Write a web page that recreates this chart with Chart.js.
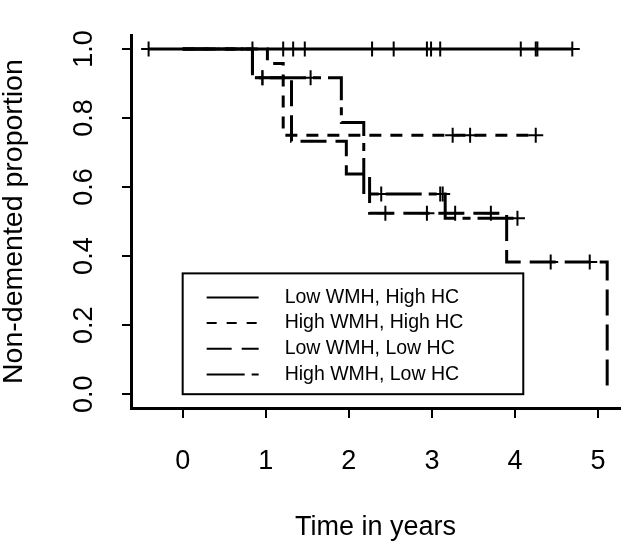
<!DOCTYPE html>
<html>
<head>
<meta charset="utf-8">
<script src="https://cdn.jsdelivr.net/npm/chart.js@4.4.1/dist/chart.umd.min.js"></script>
<style>
    html, body { margin: 0; padding: 0; background: #fff; }
    canvas { display: block; }
</style>
</head>
<body>
<canvas id="km-chart" width="633" height="544"></canvas>
<script>
// ==================== DATA ====================

const seriesLabels = ['Low WMH, High HC', 'High WMH, High HC', 'Low WMH, Low HC', 'High WMH, Low HC'];

// step curves: time in years where the curve steps, proportion after the step
const lowWmhHighHcTimes = [-0.41, 4.69];
const lowWmhHighHcSurv = [1.0, 1.0];
const lowWmhHighHcCensor = [-0.41, 0.84, 1.21, 1.33, 1.47, 2.28, 2.54, 2.94, 2.99, 3.10, 4.07, 4.25, 4.27, 4.69];

const highWmhHighHcTimes = [0, 1.02, 1.21, 4.25];
const highWmhHighHcSurv = [1.0, 0.958, 0.75, 0.75];
const highWmhHighHcCensor = [3.25, 3.46, 4.25];

const lowWmhLowHcTimes = [0, 0.84, 1.31, 1.97, 2.25, 3.90, 5.11];
const lowWmhLowHcSurv = [1.0, 0.917, 0.733, 0.638, 0.524, 0.383, 0.0];
const lowWmhLowHcCensor = [0.96, 2.44, 2.94, 3.28, 3.71, 4.43, 4.90];

const highWmhLowHcTimes = [0, 0.84, 1.91, 2.18, 3.16, 4.03];
const highWmhLowHcSurv = [1.0, 0.917, 0.787, 0.58, 0.51, 0.51];
const highWmhLowHcCensor = [0.96, 1.54, 2.39, 3.10, 3.13, 4.03];

const xTicks = [0, 1, 2, 3, 4, 5];
const yTicks = [0, 0.2, 0.4, 0.6, 0.8, 1.0];

// ==================== HELPERS ====================

const FONT = '"Liberation Sans", Arial, Helvetica, sans-serif';
const INK = '#000';

const curveDash = [[], [12, 9], [26, 9], [36, 7, 8, 7]];
const legendDash = [[], [10, 10], [25, 10], [38, 7, 8, 7]];

function stepPoints(times, surv) {
    return times.map((t, i) => ({ x: t, y: surv[i] }));
}

// a censor mark sits on the curve, at the value the curve has at that time
function censorPoints(times, surv, marks) {
    return marks.map(t => {
        let v = surv[0];
        times.forEach((s, i) => { if (s <= t) v = surv[i]; });
        return { x: t, y: v };
    });
}

const curves = [
    [lowWmhHighHcTimes, lowWmhHighHcSurv, lowWmhHighHcCensor],
    [highWmhHighHcTimes, highWmhHighHcSurv, highWmhHighHcCensor],
    [lowWmhLowHcTimes, lowWmhLowHcSurv, lowWmhLowHcCensor],
    [highWmhLowHcTimes, highWmhLowHcSurv, highWmhLowHcCensor]
];

const datasets = [];
curves.forEach(([times, surv], i) => {
    datasets.push({
        label: seriesLabels[i],
        data: stepPoints(times, surv),
        showLine: true,
        stepped: true,
        borderColor: '#000',
        borderWidth: 3,
        borderDash: curveDash[i],
        pointRadius: 0,
        pointHoverRadius: 0
    });
});
curves.forEach(([times, surv, marks], i) => {
    datasets.push({
        label: seriesLabels[i] + ' (censored)',
        data: censorPoints(times, surv, marks),
        showLine: false,
        pointStyle: 'cross',
        pointRadius: 7.5,
        pointBorderWidth: 2,
        pointBorderColor: '#000',
        pointBackgroundColor: '#000'
    });
});

// legend box drawn inside the plot, like R's legend(0, 0.35, ...)
const boxLegend = {
    id: 'boxLegend',
    afterDatasetsDraw(chart) {
        const { ctx, scales: { x, y } } = chart;
        const left = x.getPixelForValue(0);
        const right = x.getPixelForValue(4.1);
        const top = y.getPixelForValue(0.35);
        const bottom = y.getPixelForValue(0);

        ctx.save();
        ctx.strokeStyle = '#000';
        ctx.lineWidth = 2;
        ctx.strokeRect(left, top, right - left, bottom - top);

        ctx.font = '19.5px ' + FONT;
        ctx.fillStyle = INK;
        ctx.textBaseline = 'middle';
        ctx.textAlign = 'left';
        seriesLabels.forEach((label, i) => {
            const rowY = top + 24 + i * 25.7;
            ctx.setLineDash(legendDash[i]);
            ctx.beginPath();
            ctx.moveTo(left + 24, rowY);
            ctx.lineTo(left + 76, rowY);
            ctx.stroke();
            ctx.setLineDash([]);
            ctx.fillText(label, left + 102, rowY);
        });
        ctx.restore();
    }
};

// ==================== CHART ====================

const ctx = document.getElementById('km-chart').getContext('2d');

new Chart(ctx, {
    type: 'scatter',
    data: { datasets },
    options: {
        responsive: false,
        animation: false,
        devicePixelRatio: 1,
        layout: { padding: { top: 9, right: 10, left: 0, bottom: 0 } },
        plugins: {
            legend: { display: false },
            tooltip: { enabled: false }
        },
        scales: {
            x: {
                type: 'linear',
                position: 'bottom',
                min: -0.622,
                max: 5.263,
                afterBuildTicks: s => { s.ticks = xTicks.map(v => ({ value: v })); },
                afterFit: s => { s.height = 136; },
                grid: {
                    drawOnChartArea: false,
                    drawTicks: true,
                    tickLength: 10,
                    color: '#000',
                    lineWidth: 2
                },
                border: { display: true, color: '#000', width: 3 },
                ticks: {
                    autoSkip: false,
                    maxRotation: 0,
                    padding: 27,
                    color: INK,
                    font: { family: FONT, size: 27 },
                    callback: v => String(v)
                },
                title: {
                    display: true,
                    text: 'Time in years',
                    color: INK,
                    padding: 0,
                    font: { family: FONT, size: 27 }
                }
            },
            y: {
                type: 'linear',
                position: 'left',
                min: -0.04,
                max: 1.04,
                afterBuildTicks: s => { s.ticks = yTicks.map(v => ({ value: v })); },
                afterFit: s => { s.width = 131; },
                grid: {
                    drawOnChartArea: false,
                    drawTicks: true,
                    tickLength: 9,
                    color: '#000',
                    lineWidth: 2
                },
                border: { display: true, color: '#000', width: 3 },
                ticks: {
                    autoSkip: false,
                    minRotation: 90,
                    maxRotation: 90,
                    crossAlign: 'center',
                    padding: 19,
                    color: INK,
                    font: { family: FONT, size: 27 },
                    callback: v => v.toFixed(1)
                },
                title: {
                    display: true,
                    text: 'Non-demented proportion',
                    color: INK,
                    padding: 0,
                    font: { family: FONT, size: 28.5, lineHeight: 1.0 }
                }
            }
        }
    },
    plugins: [boxLegend]
});
</script>
</body>
</html>
